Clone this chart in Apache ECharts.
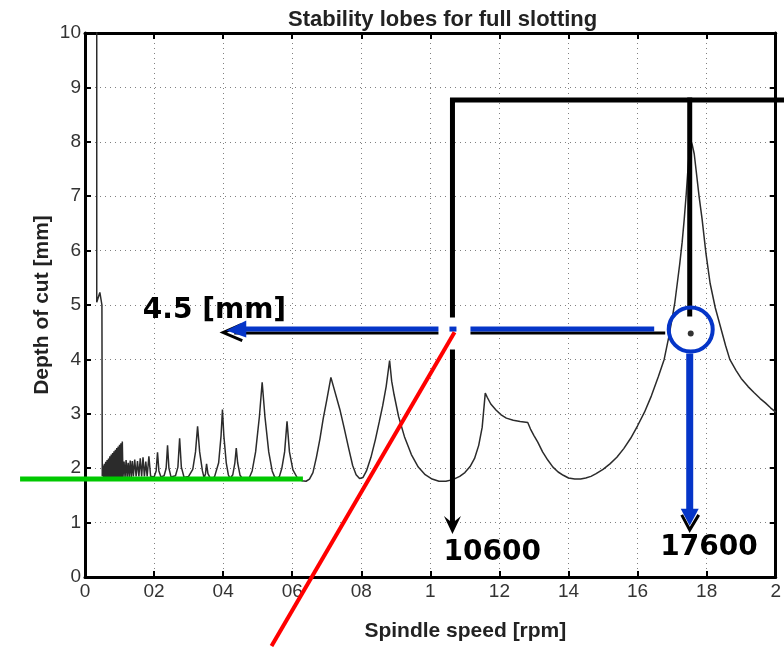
<!DOCTYPE html>
<html><head><meta charset="utf-8">
<script src="https://cdn.jsdelivr.net/npm/echarts@6/dist/echarts.min.js"></script>
<style>html,body{margin:0;padding:0;background:#fff}#c{width:784px;height:647px}</style>
</head><body><div id="c"></div>
<script>
// ---------- data (spindle speed in 10^4 rpm, depth of cut in mm) ----------
const chartTitle = "Stability lobes for full slotting";
const xAxisTitle = "Spindle speed [rpm]";
const yAxisTitle = "Depth of cut [mm]";
const xTickLabels = ["0","02","04","06","08","1","12","14","16","18","2"];

const lobeSpeed = [0.034,0.034,0.043,0.049,0.050,
0.052,0.054,0.056,0.058,0.060,0.062,0.064,0.066,0.068,0.070,0.072,0.074,0.076,0.078,0.080,0.082,0.084,0.086,0.088,0.090,0.092,0.094,0.096,0.098,0.100,0.102,0.104,0.106,0.108,0.110,
0.113,0.116,0.119,0.122,0.125,0.128,0.131,0.134,0.137,0.140,0.144,0.148,0.152,0.156,0.160,0.164,0.168,0.172,0.176,0.180,0.185,0.190,
0.200,0.206,0.210,0.214,0.220,
0.229,0.235,0.239,0.243,0.249,
0.262,0.269,0.274,0.279,0.287,
0.300,0.312,0.320,0.326,0.332,0.340,0.345,
0.349,0.352,0.356,0.364,
0.375,0.387,0.394,0.398,0.402,0.409,0.415,0.420,
0.428,0.434,0.438,0.442,0.449,0.457,0.467,0.476,
0.484,0.494,0.505,0.513,0.521,0.532,0.542,0.549,0.556,0.563,0.570,
0.578,0.585,0.592,0.602,0.615,0.628,0.640,0.650,0.660,0.670,0.680,0.690,0.700,
0.712,0.738,0.750,0.764,0.775,0.785,0.795,0.805,0.815,0.828,0.841,0.852,0.862,0.872,
0.882,0.888,0.895,0.908,0.925,0.945,0.965,0.985,1.005,1.025,1.045,1.065,1.085,1.100,1.115,1.128,1.140,1.150,
1.159,1.165,1.175,1.190,1.205,1.220,1.240,1.260,1.282,1.290,1.300,1.311,1.325,1.340,1.355,1.370,1.385,1.400,1.418,1.435,1.450,1.465,1.480,
1.500,1.520,1.540,1.560,1.580,1.600,1.620,1.640,1.660,1.677,1.690,1.700,1.708,1.715,1.722,1.729,1.735,1.741,1.747,
1.753,1.758,1.764,1.770,1.778,1.787,1.798,1.810,1.825,1.840,1.855,1.867,1.885,1.900,1.920,1.937,1.955,1.970,1.985,2.000];

const lobeDepth = [10.6,5.05,5.23,5.0,1.85,
2.05,1.82,2.08,1.82,2.12,1.82,2.15,1.82,2.18,1.82,2.22,1.82,2.25,1.82,2.28,1.82,2.31,1.82,2.34,1.82,2.37,1.82,2.40,1.82,2.43,1.82,2.46,1.82,2.49,1.83,
2.12,1.83,2.15,1.84,2.10,1.84,2.14,1.84,2.13,1.85,2.16,1.85,2.13,1.85,2.18,1.85,2.20,1.85,2.12,1.85,2.22,1.85,
1.84,1.95,2.29,1.95,1.84,
1.86,2.00,2.42,2.00,1.84,
1.86,2.02,2.55,2.02,1.83,
1.85,1.98,2.30,2.77,2.30,1.95,1.82,
1.90,2.08,1.90,1.80,
1.84,2.10,2.60,3.08,2.60,2.10,1.88,1.81,
1.88,2.10,2.37,2.10,1.87,1.80,1.78,1.83,
1.95,2.30,2.95,3.58,2.95,2.30,1.95,1.84,1.80,1.85,2.00,
2.30,2.86,2.30,1.97,1.82,1.77,1.76,1.80,1.92,2.20,2.53,2.92,3.25,
3.67,3.08,2.75,2.35,2.05,1.88,1.81,1.83,1.95,2.20,2.53,2.85,3.15,3.50,
3.98,3.60,3.35,2.95,2.58,2.25,2.02,1.88,1.80,1.76,1.76,1.79,1.85,1.92,2.03,2.18,2.42,2.75,
3.38,3.30,3.18,3.07,2.98,2.92,2.88,2.86,2.84,2.72,2.60,2.48,2.30,2.15,2.02,1.93,1.87,1.82,1.80,1.80,1.82,1.85,1.90,
1.98,2.08,2.20,2.36,2.55,2.78,3.03,3.33,3.68,4.00,4.40,4.75,5.05,5.40,5.75,6.15,6.57,7.05,7.60,
8.05,7.95,7.78,7.45,7.00,6.57,5.95,5.40,4.95,4.60,4.25,4.00,3.80,3.65,3.50,3.39,3.28,3.20,3.11,3.03];

// annotation anchors (data units)
const refDepth = 8.77;          // black frame line level
const speedA = 1.064;           // 10600 rpm
const speedB = 1.751;           // 17600 rpm
const chosenDepth = 4.53;       // 4.5 mm
const limitDepth = 1.80;        // green stability limit
const limitSpeedRange = [-0.188, 0.631];
const redLine = [[0.540, -1.27], [1.070, 4.50]];
const frameRightSpeed = 2.05;
const arrowAEndDepth = 0.79;
const arrowBEndDepth = 0.94;
const depthArrowTipSpeed = 0.409;
const depthArrowTailSpeed = 1.680;
const annotationTexts = ["4.5 [mm]", "10600", "17600"];
const annotationAnchors = [[0.375, 4.90], [1.179, 0.44], [1.807, 0.53]];

// ---------- chart ----------
const chart = echarts.init(document.getElementById('c'), null, {renderer: 'canvas'});
const tickFont = {fontFamily: 'Liberation Sans', fontSize: 19, color: '#333'};
const frameAxis = {
  axisLine: {show: true, onZero: false, lineStyle: {color: '#000', width: 3}},
  axisTick: {show: true, inside: true, length: 6, lineStyle: {color: '#000', width: 2}}
};
const option = {
  animation: false,
  backgroundColor: '#fff',
  title: {text: chartTitle, left: 283, top: 4,
    textStyle: {fontFamily: 'Liberation Sans', fontSize: 22, fontWeight: 'bold', color: '#222'}},
  grid: {left: 85, right: 5, top: 33, bottom: 69},
  xAxis: [
    Object.assign({type: 'value', min: 0, max: 2, interval: 0.2, position: 'bottom',
      axisLabel: Object.assign({formatter: v => xTickLabels[Math.round(v * 5)], margin: 5}, tickFont),
      splitLine: {show: true, lineStyle: {type: [1, 4], color: '#808080', width: 1}},
      name: xAxisTitle, nameLocation: 'middle', nameGap: 44,
      nameTextStyle: {fontFamily: 'Liberation Sans', fontSize: 21, fontWeight: 'bold', color: '#222', padding: [0, 0, 0, 70]}
    }, frameAxis),
    Object.assign({type: 'value', min: 0, max: 2, interval: 0.2, position: 'top',
      axisLabel: {show: false}, splitLine: {show: false}}, frameAxis)
  ],
  yAxis: [
    Object.assign({type: 'value', min: 0, max: 10, interval: 1, position: 'left',
      axisLabel: Object.assign({margin: 4}, tickFont),
      splitLine: {show: true, lineStyle: {type: [1, 4], color: '#808080', width: 1}},
      name: yAxisTitle, nameLocation: 'middle', nameGap: 32, nameMoveOverlap: false,
      nameTextStyle: {fontFamily: 'Liberation Sans', fontSize: 21, fontWeight: 'bold', color: '#222'}
    }, frameAxis),
    Object.assign({type: 'value', min: 0, max: 10, interval: 1, position: 'right',
      axisLabel: {show: false}, splitLine: {show: false}}, frameAxis)
  ],
  series: [{
    type: 'line', xAxisIndex: 0, yAxisIndex: 0,
    data: lobeSpeed.map((s, i) => [s, lobeDepth[i]]),
    symbol: 'none', clip: true, z: 2,
    lineStyle: {color: '#2b2b2b', width: 1.5}
  }]
};
chart.setOption(option);

// ---------- annotations, positioned through the axes ----------
const P = (x, y) => chart.convertToPixel({gridIndex: 0}, [x, y]);
const BLUE = '#0535c8';
const g = [];
const aTop = P(speedA, refDepth), aEnd = P(speedA, arrowAEndDepth), rEnd = P(frameRightSpeed, refDepth);
g.push({type: 'polyline', z: 10, shape: {points: [[aTop[0], aEnd[1] - 10], [aTop[0], aTop[1]], [rEnd[0], aTop[1]]]},
  style: {stroke: '#000', lineWidth: 5, fill: null, lineJoin: 'miter'}});
g.push({type: 'polygon', z: 10, shape: {points: [[aEnd[0] - 8.5, aEnd[1] - 18], [aEnd[0], aEnd[1]], [aEnd[0] + 8.5, aEnd[1] - 18], [aEnd[0], aEnd[1] - 11]]},
  style: {fill: '#000'}});
const bTop = P(speedB, refDepth), bC = P(speedB, chosenDepth), bEnd = P(speedB, arrowBEndDepth);
g.push({type: 'line', z: 10, shape: {x1: bTop[0], y1: bTop[1] - 2.5, x2: bTop[0], y2: bC[1] - 14},
  style: {stroke: '#000', lineWidth: 5}});
// horizontal depth arrow
const hTip = P(depthArrowTipSpeed, chosenDepth), hTail = P(depthArrowTailSpeed, chosenDepth);
g.push({type: 'line', z: 10, shape: {x1: hTip[0] + 8, y1: hTail[1] + 2.5, x2: hTail[0], y2: hTail[1] + 2.5},
  style: {stroke: '#000', lineWidth: 3}});
g.push({type: 'polyline', z: 10, shape: {points: [[hTip[0] + 15, hTip[1] - 6], [hTip[0] - 3, hTip[1] + 2], [hTip[0] + 16, hTip[1] + 10]]},
  style: {stroke: '#000', lineWidth: 3, fill: null}});
g.push({type: 'line', z: 11, shape: {x1: hTip[0] + 18, y1: hTail[1] - 1.5, x2: hTail[0] - 11, y2: hTail[1] - 1.5},
  style: {stroke: BLUE, lineWidth: 5}});
g.push({type: 'polygon', z: 11, shape: {points: [[hTip[0], hTip[1]], [hTip[0] + 20, hTip[1] - 10], [hTip[0] + 20, hTip[1] + 7]]},
  style: {fill: BLUE}});
// vertical blue arrow at speed B
g.push({type: 'polyline', z: 10, shape: {points: [[bEnd[0] - 8, bEnd[1] - 11], [bEnd[0], bEnd[1] + 4], [bEnd[0] + 9, bEnd[1] - 11]]},
  style: {stroke: '#000', lineWidth: 3, fill: null}});
g.push({type: 'line', z: 11, shape: {x1: bC[0], y1: bC[1] + 23, x2: bC[0], y2: bEnd[1] - 14},
  style: {stroke: BLUE, lineWidth: 7}});
g.push({type: 'polygon', z: 11, shape: {points: [[bEnd[0] - 9, bEnd[1] - 17], [bEnd[0] + 9, bEnd[1] - 17], [bEnd[0], bEnd[1]]]},
  style: {fill: BLUE}});
// white mask at the crossing
const I = P(speedA, chosenDepth);
g.push({type: 'rect', z: 12, shape: {x: I[0] - 14, y: I[1] - 13, width: 32, height: 32}, style: {fill: '#fff'}});
g.push({type: 'line', z: 13, shape: {x1: I[0] - 3, y1: I[1] - 1.5, x2: I[0] + 4, y2: I[1] - 1.5},
  style: {stroke: BLUE, lineWidth: 5}});
// red line
const r0 = P(redLine[0][0], redLine[0][1]), r1 = P(redLine[1][0], redLine[1][1]);
g.push({type: 'line', z: 13, shape: {x1: r0[0], y1: r0[1], x2: r1[0], y2: r1[1]}, style: {stroke: '#ff0000', lineWidth: 4}});
// green limit line
const gl0 = P(limitSpeedRange[0], limitDepth), gl1 = P(limitSpeedRange[1], limitDepth);
g.push({type: 'line', z: 13, shape: {x1: gl0[0], y1: gl0[1], x2: gl1[0], y2: gl1[1]}, style: {stroke: '#00c800', lineWidth: 5}});
// circle and dot
g.push({type: 'circle', z: 14, shape: {cx: bC[0] + 1, cy: bC[1] - 1, r: 22}, style: {stroke: BLUE, lineWidth: 4, fill: null}});
g.push({type: 'circle', z: 14, shape: {cx: bC[0] + 1, cy: bC[1] + 3, r: 3}, style: {fill: '#333'}});
// labels
annotationTexts.forEach((t, i) => {
  const p = P(annotationAnchors[i][0], annotationAnchors[i][1]);
  g.push({type: 'text', z: 15, x: p[0], y: p[1],
    style: {text: t, fontFamily: 'DejaVu Sans', fontSize: 28, fontWeight: 'bold', fill: '#000', align: 'center', verticalAlign: 'middle'}});
});
chart.setOption({graphic: {elements: g}});
</script>
</body></html>
